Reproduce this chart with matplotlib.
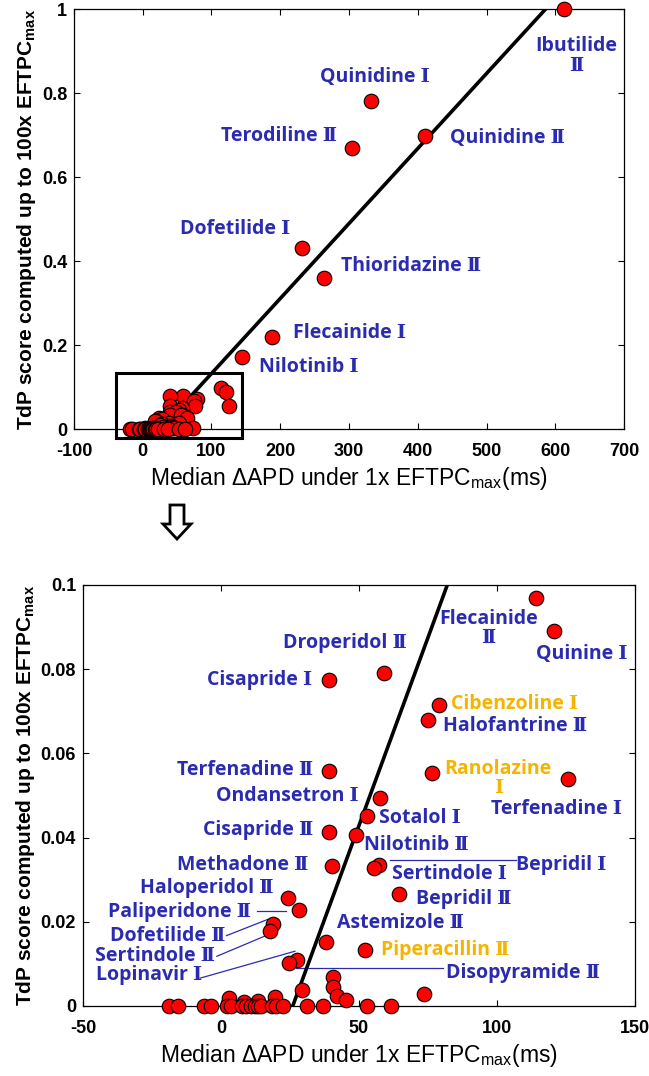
"""
TdP score vs median dAPD, full range and zoomed view
"""

import numpy as np
import matplotlib
matplotlib.use('Agg')
import matplotlib.pyplot as plt
from matplotlib.patches import Rectangle, Polygon
from matplotlib.ticker import FuncFormatter

plt.rcParams['font.family'] = ['Liberation Sans', 'DejaVu Sans']
plt.rcParams['mathtext.default'] = 'regular'
plt.rcParams['axes.unicode_minus'] = False

# median delta APD (ms) and TdP score of every drug/dose point
apd = [612, 332, 305, 411, 231, 264, 188, 144,
       114, 120.5, 59, 39, 79, 75, 39, 76.5, 125.8, 57.6, 53, 39, 48.8,
       40.2, 57.1, 55.3, 64.4, 24.2, 28.3, 18.9, 17.6, 38.2, 52.3, 27.7, 24.5,
       29.5, 40.7, 40.5, 42.2, 45.2, 73.4, 3, 8.5, 13.5, 19.5,
       -19, -15.5, -6, -3.5, 2, 3.5, 7.5, 9, 11, 12.5, 13.5, 14.5, 18.5,
       20, 22.5, 31, 37, 53, 61.5]
tdp = [1.0, 0.78, 0.67, 0.698, 0.43, 0.359, 0.22, 0.171,
       0.097, 0.089, 0.079, 0.0775, 0.0715, 0.0678, 0.0558, 0.0553, 0.054,
       0.0493, 0.0452, 0.0413, 0.0406, 0.0333, 0.0335, 0.0327, 0.0267,
       0.0257, 0.0228, 0.0194, 0.0179, 0.0152, 0.0132, 0.011, 0.0101,
       0.0038, 0.0068, 0.0046, 0.0023, 0.0013, 0.0029, 0.0018, 0.001, 0.0012,
       0.0022,
       0, 0, 0, 0, 0, 0, 0, 0, 0, 0, 0, 0, 0, 0, 0, 0, 0, 0, 0]

# fitted line y = slope * (x - x0)
fit_x0 = 26.0
fit_slope = 1 / 560.0

# zoom box on the full-range panel
zoom_box = (-39, -0.022, 183, 0.155)

BLUE = '#2b2bb0'
ORANGE = '#f5b400'
LBL_FONT = ['Open Sans', 'DejaVu Serif']

# labels: text, x, y, ha, colour
top_labels = [
    ('Ibutilide\nⅡ', 630, 0.888, 'center', BLUE),
    ('Quinidine Ⅰ', 337, 0.838, 'center', BLUE),
    ('Terodiline Ⅱ', 282, 0.698, 'right', BLUE),
    ('Quinidine Ⅱ', 447, 0.693, 'left', BLUE),
    ('Dofetilide Ⅰ', 215, 0.476, 'right', BLUE),
    ('Thioridazine Ⅱ', 288, 0.387, 'left', BLUE),
    ('Flecainide Ⅰ', 218, 0.228, 'left', BLUE),
    ('Nilotinib Ⅰ', 169, 0.1485, 'left', BLUE),
]
bot_labels = [
    ('Flecainide\nⅡ', 97, 0.0897, 'center', BLUE),
    ('Droperidol Ⅱ', 67.4, 0.0863, 'right', BLUE),
    ('Cisapride Ⅰ', 33, 0.0774, 'right', BLUE),
    ('Quinine Ⅰ', 114, 0.0837, 'left', BLUE),
    ('Cibenzoline Ⅰ', 83.3, 0.0717, 'left', ORANGE),
    ('Halofantrine Ⅱ', 80.3, 0.0664, 'left', BLUE),
    ('Terfenadine Ⅱ', 33.3, 0.0561, 'right', BLUE),
    ('Ranolazine\nⅠ', 100.5, 0.054, 'center', ORANGE),
    ('Terfenadine Ⅰ', 97.7, 0.0468, 'left', BLUE),
    ('Ondansetron Ⅰ', 50, 0.0498, 'right', BLUE),
    ('Sotalol Ⅰ', 57.1, 0.0446, 'left', BLUE),
    ('Cisapride Ⅱ', 33.3, 0.0417, 'right', BLUE),
    ('Nilotinib Ⅱ', 51.8, 0.0383, 'left', BLUE),
    ('Methadone Ⅱ', 31.8, 0.0335, 'right', BLUE),
    ('Bepridil Ⅰ', 106.8, 0.0335, 'left', BLUE),
    ('Sertindole Ⅰ', 62.1, 0.0313, 'left', BLUE),
    ('Haloperidol Ⅱ', 18.9, 0.0279, 'right', BLUE),
    ('Bepridil Ⅱ', 70.5, 0.0255, 'left', BLUE),
    ('Paliperidone Ⅱ', 10.9, 0.0222, 'right', BLUE),
    ('Astemizole Ⅱ', 42, 0.0196, 'left', BLUE),
    ('Dofetilide Ⅱ', 1.5, 0.0167, 'right', BLUE),
    ('Sertindole Ⅱ', -2.3, 0.0118, 'right', BLUE),
    ('Piperacillin Ⅱ', 58, 0.0132, 'left', ORANGE),
    ('Lopinavir Ⅰ', -6.8, 0.0074, 'right', BLUE),
    ('Disopyramide Ⅱ', 81.4, 0.0078, 'left', BLUE),
]
# leader lines on the zoomed panel: (x1, y1, x2, y2)
leaders = [
    (61.4, 0.0347, 106.8, 0.0347),
    (12.9, 0.0226, 23.5, 0.0226),
    (2.0, 0.0167, 17.1, 0.0206),
    (-1.5, 0.0118, 15.9, 0.0166),
    (-7.6, 0.0066, 26.8, 0.013),
    (27.3, 0.009, 80.3, 0.009),
]


def style_axes(ax, xlim, xticks, ylim, yticks):
	ax.set_xlim(xlim)
	ax.set_ylim(ylim)
	ax.set_xticks(xticks)
	ax.set_yticks(yticks)
	ax.yaxis.set_major_formatter(FuncFormatter(lambda v, p: '%g' % round(v, 4)))
	ax.tick_params(direction='in', top=True, right=True, length=4, width=0.8,
	               labelsize=13)
	ax.tick_params(axis='x', pad=10)
	ax.tick_params(axis='y', pad=5)
	for lab in ax.get_xticklabels() + ax.get_yticklabels():
		lab.set_fontweight('bold')
	for sp in ax.spines.values():
		sp.set_linewidth(0.9)
	ax.set_xlabel('Median ΔAPD under 1x EFTPC$_{max}$(ms)', fontsize=16.5, labelpad=4)
	ax.set_ylabel('TdP score computed up to 100x EFTPC$_{max}$', fontsize=15,
	              fontweight='bold', labelpad=3)


def draw_points(ax, xlim, ylim):
	xs = np.array(xlim, dtype=float)
	ax.plot(xs, fit_slope * (xs - fit_x0), color='black', lw=2.6, zorder=2)
	x = np.array(apd)
	y = np.array(tdp)
	inside = (x >= xlim[0]) & (x <= xlim[1]) & (y >= ylim[0]) & (y <= ylim[1])
	ax.scatter(x[inside], y[inside], s=110, facecolor='red', edgecolor='black',
	           lw=0.8, zorder=3, clip_on=False)


def draw_labels(ax, labels):
	for txt, x, y, ha, col in labels:
		ax.text(x, y, txt, ha=ha, va='center', color=col, fontsize=14,
		        family=LBL_FONT, fontweight='bold', multialignment='center',
		        linespacing=0.95, zorder=4)


fig = plt.figure(figsize=(6.49, 10.76), dpi=100)
ax1 = fig.add_axes([0.114, 0.6013, 0.8475, 0.3903])
ax2 = fig.add_axes([0.1279, 0.0651, 0.8505, 0.3913])

draw_points(ax1, (-100, 700), (0, 1))
draw_labels(ax1, top_labels)
style_axes(ax1, (-100, 700), np.arange(-100, 701, 100), (0, 1), np.arange(0, 1.01, 0.2))
ax1.add_patch(Rectangle(zoom_box[:2], zoom_box[2], zoom_box[3], fill=False,
                        edgecolor='black', lw=2.2, clip_on=False, zorder=5))

draw_points(ax2, (-50, 150), (0, 0.1))
draw_labels(ax2, bot_labels)
for x1, y1, x2, y2 in leaders:
	ax2.plot([x1, x2], [y1, y2], color=BLUE, lw=0.9, zorder=1)
style_axes(ax2, (-50, 150), np.arange(-50, 151, 50), (0, 0.1), np.arange(0, 0.101, 0.02))

# hollow down arrow between the panels (pixel outline)
arrow_px = [(170, 505), (184, 505), (184, 524), (191, 524), (177, 539),
            (163, 524), (170, 524)]
W, H = 649.0, 1076.0
fig.patches.append(Polygon([(x / W, 1 - y / H) for x, y in arrow_px], closed=True,
                           transform=fig.transFigure, facecolor='white',
                           edgecolor='black', lw=2.0))

fig.savefig('out.png', dpi=100)
